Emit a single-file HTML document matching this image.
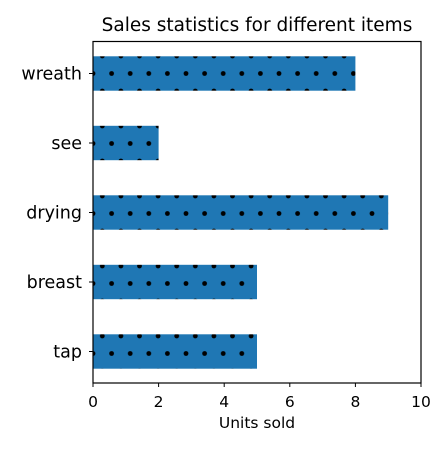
<!DOCTYPE html>
<html><head><meta charset="utf-8"><style>
body{margin:0;background:#fff}
svg text{font-family:"DejaVu Sans","Liberation Sans",sans-serif;fill:#000}
</style></head><body>
<svg id="chart" width="448" height="448" viewBox="0 0 448 448">
<defs>
<pattern id="dots" patternUnits="userSpaceOnUse" x="93" y="73.5" width="18.6" height="35">
<rect width="18.6" height="35" fill="#1f77b4"/>
<circle cx="0" cy="0" r="2.4" fill="#000"/><circle cx="18.6" cy="0" r="2.4" fill="#000"/>
<circle cx="0" cy="35" r="2.4" fill="#000"/><circle cx="18.6" cy="35" r="2.4" fill="#000"/>
<circle cx="9.3" cy="17.5" r="2.4" fill="#000"/>
</pattern>
</defs>
<text x="257" y="31" font-size="18.5" text-anchor="middle">Sales statistics for different items</text>
<g id="bars"></g>
<g id="axes"></g>
<text x="257" y="428" font-size="15.5" text-anchor="middle">Units sold</text>
</svg>
<script>
const categories = ["wreath","see","drying","breast","tap"];
const values = [8,2,9,5,5];
const xTicks = [0,2,4,6,8,10];
const NS="http://www.w3.org/2000/svg";
const x0=93,x1=421,yTop=41.5,yBot=383;
const xs=v=>x0+(x1-x0)*v/10;
const yc=i=>73.5+i*69.5;
const bars=document.getElementById('bars'),axes=document.getElementById('axes');
function mk(tag,attrs,parent){const e=document.createElementNS(NS,tag);for(const k in attrs)e.setAttribute(k,attrs[k]);parent.appendChild(e);return e;}
categories.forEach((c,i)=>{
  const r=mk('rect',{x:xs(0),y:yc(i)-17.2,width:xs(values[i])-xs(0),height:34.4,fill:'url(#dots)'},bars);
  
  
  mk('line',{x1:x0-4,x2:x0,y1:yc(i),y2:yc(i),stroke:'#000','stroke-width':1},axes);
  const t=mk('text',{x:x0-11,y:yc(i)+6,'font-size':17.5,'text-anchor':'end'},axes);
  t.textContent=c;
  
  
});
xTicks.forEach(v=>{
  mk('line',{x1:xs(v),x2:xs(v),y1:yBot,y2:yBot+4,stroke:'#000','stroke-width':1},axes);
  const t=mk('text',{x:xs(v),y:yBot+24,'font-size':15.5,'text-anchor':'middle'},axes);
  t.textContent=v;
  
  
});
const f=mk('rect',{x:x0,y:yTop,width:x1-x0,height:yBot-yTop,fill:'none',stroke:'#000','stroke-width':1.2},axes);


</script>
</body></html>
